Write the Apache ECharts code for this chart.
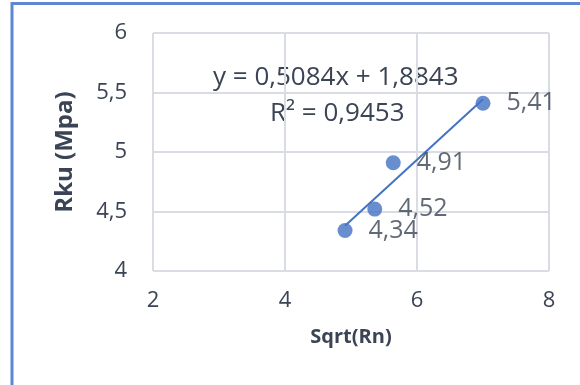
<!DOCTYPE html>
<html>
<head>
<meta charset="utf-8">
<script src="https://cdn.jsdelivr.net/npm/echarts@6/dist/echarts.min.js"></script>
<style>
html,body{margin:0;padding:0;background:#fff;}
#c{width:580px;height:385px;}
</style>
</head>
<body>
<div id="c"></div>
<script>
// Data
var xValues = [4.91, 5.36, 5.64, 7.0];
var yValues = [4.34, 4.52, 4.91, 5.41];
var pointLabels = ['4,34', '4,52', '4,91', '5,41'];
var trendX = [4.91, 7.0];
var trendY = [4.38, 5.443];
var equationText = 'y = 0,5084x + 1,8843';
var r2Text = 'R² = 0,9453';
var xAxisTitle = 'Sqrt(Rn)';
var yAxisTitle = 'Rku (Mpa)';

function fmt(v){ return String(v).replace('.', ','); }

var textColor = '#3b4454';
var font = 'Open Sans';
var chart = echarts.init(document.getElementById('c'));
chart.setOption({
  animation: false,
  backgroundColor: '#ffffff',
  grid: { left: 153, right: 31, top: 33, bottom: 114 },
  xAxis: {
    type: 'value', min: 2, max: 8, interval: 2,
    name: xAxisTitle, nameLocation: 'middle', nameGap: 56,
    nameTextStyle: { fontFamily: font, fontWeight: 'bold', fontSize: 20, color: textColor },
    axisLine: { show: false }, axisTick: { show: false },
    axisLabel: { fontFamily: font, fontSize: 22, color: textColor, margin: 19, formatter: fmt },
    splitLine: { show: true, lineStyle: { color: '#d9dde3', width: 2 } }
  },
  yAxis: {
    type: 'value', min: 4, max: 6, interval: 0.5,
    name: yAxisTitle, nameLocation: 'middle', nameGap: 76, nameRotate: 90,
    nameTextStyle: { fontFamily: font, fontWeight: 'bold', fontSize: 24, color: textColor },
    axisLine: { show: false }, axisTick: { show: false },
    axisLabel: { fontFamily: font, fontSize: 22, color: textColor, margin: 26, formatter: fmt },
    splitLine: { show: true, lineStyle: { color: '#d9dde3', width: 2 } }
  },
  series: [
    {
      type: 'line',
      data: trendX.map(function(x, i){ return [x, trendY[i]]; }),
      showSymbol: false, symbol: 'none',
      lineStyle: { color: '#4472c4', width: 2 },
      z: 2
    },
    {
      type: 'scatter',
      data: xValues.map(function(x, i){ return [x, yValues[i]]; }),
      symbolSize: 15,
      itemStyle: { color: '#4472c4' },
      label: {
        show: true, position: 'right', distance: 16,
        fontFamily: font, fontSize: 25, color: textColor,
        formatter: function(p){ return pointLabels[p.dataIndex]; }
      },
      z: 3
    }
  ],
  graphic: [
    { type: 'rect', shape: { x: 12, y: 3.5, width: 800, height: 600 },
      style: { fill: 'none', stroke: '#5b87d6', lineWidth: 3 }, silent: true },
    { type: 'text', left: 213, top: 65,
      style: { text: equationText, fontFamily: font, fontSize: 26, fill: textColor } },
    { type: 'text', left: 270, top: 101,
      style: { text: r2Text, fontFamily: font, fontSize: 26, fill: textColor } }
  ]
});
</script>
</body>
</html>
